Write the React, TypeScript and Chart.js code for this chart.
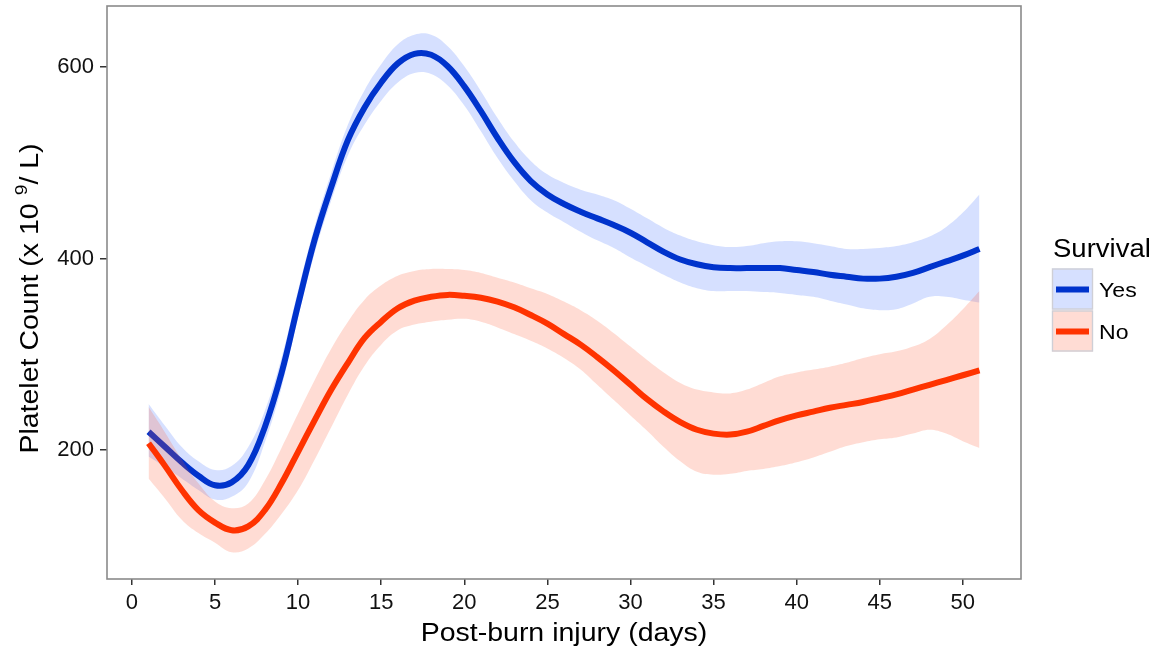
import React, { useEffect, useRef } from 'react';
import { Chart, registerables } from 'chart.js';

Chart.register(...registerables);

// ---- Data ----
const days = [1, 2, 3, 4, 5, 6, 7, 8, 9, 10, 11, 12, 13, 14, 15, 16, 17, 18, 19, 20, 21, 22, 23, 24, 25, 26, 27, 28, 29, 30, 31, 32, 33, 34, 35, 36, 37, 38, 39, 40, 41, 42, 43, 44, 45, 46, 47, 48, 49, 50, 51];

const yesFit = [219, 203, 187, 173, 163, 166, 184, 224, 280, 352, 420, 475, 524, 558, 584, 604, 614, 613, 601, 580, 554, 526, 501, 481, 467, 457, 449, 442, 435, 427, 417, 407, 399, 394, 391, 390, 390, 390, 390, 388, 386, 383, 381, 379, 379, 381, 385, 391, 397, 403, 410];
const yesHi = [248, 225, 203, 188, 179, 183, 203, 241, 296, 367, 434, 490, 540, 576, 603, 624, 634, 634, 622, 601, 575, 547, 522, 502, 488, 479, 472, 467, 461, 452, 442, 432, 424, 418, 414, 412, 413, 416, 418, 418, 416, 413, 410, 410, 411, 413, 417, 423, 433, 448, 467];
const yesLo = [193, 182, 170, 158, 148, 151, 166, 208, 265, 338, 406, 461, 508, 540, 565, 584, 594, 593, 581, 560, 533, 505, 481, 461, 448, 438, 428, 419, 411, 401, 392, 383, 375, 369, 366, 366, 366, 365, 364, 362, 360, 356, 352, 348, 346, 347, 353, 360, 360, 357, 354];

const noFit = [207, 183, 158, 137, 124, 116, 120, 137, 165, 198, 231, 263, 291, 317, 334, 348, 356, 360, 362, 361, 359, 355, 349, 341, 332, 321, 310, 297, 283, 268, 253, 240, 229, 221, 217, 216, 219, 225, 231, 236, 240, 244, 247, 250, 254, 258, 263, 268, 273, 278, 283];
const noHi = [245, 218, 190, 165, 146, 139, 144, 168, 202, 238, 273, 306, 334, 357, 372, 382, 387, 389, 389, 388, 385, 380, 375, 369, 363, 355, 346, 335, 322, 308, 294, 281, 270, 263, 260, 259, 263, 270, 277, 281, 284, 287, 291, 296, 300, 303, 308, 316, 330, 347, 366];
const noLo = [170, 149, 127, 113, 103, 93, 97, 112, 133, 158, 190, 224, 258, 288, 310, 325, 331, 334, 336, 337, 334, 328, 321, 314, 306, 296, 284, 268, 252, 236, 220, 203, 188, 177, 174, 175, 178, 180, 183, 187, 192, 198, 204, 208, 211, 213, 217, 221, 217, 209, 202];

const xTicks = [0, 5, 10, 15, 20, 25, 30, 35, 40, 45, 50];
const yTicks = [200, 400, 600];

const seriesNames = ['Yes', 'No'];
const legendTitle = 'Survival';
const xTitle = 'Post-burn injury (days)';
const yTitleMain = 'Platelet Count (x 10 ';
const yTitleSup = '9';
const yTitleEnd = '/ L)';

const BLUE = '#0033cc';
const RED = '#ff3300';
const BLUE_BAND = 'rgba(51,102,255,0.2)';
const RED_BAND = 'rgba(255,80,40,0.2)';
const FONT = '"Liberation Sans", Arial, Helvetica, sans-serif';
const STRETCH = 1.14;

const pts = (arr: number[]) => days.map((d, i) => ({ x: d, y: arr[i] }));

function stretchText(ctx: CanvasRenderingContext2D, text: string, x: number, y: number, sx: number, align: CanvasTextAlign) {
  ctx.save();
  ctx.translate(x, y);
  ctx.scale(sx, 1);
  ctx.textAlign = align;
  ctx.textBaseline = 'alphabetic';
  ctx.fillText(text, 0, 0);
  ctx.restore();
}

const decorPlugin = {
  id: 'decor',
  afterDatasetsDraw(chart: any) {
    const { ctx, chartArea } = chart;
    ctx.save();
    ctx.strokeStyle = '#8a8a8a';
    ctx.lineWidth = 1.6;
    ctx.strokeRect(chartArea.left, chartArea.top, chartArea.right - chartArea.left, chartArea.bottom - chartArea.top);
    ctx.restore();
  },
  afterDraw(chart: any) {
    const { ctx, chartArea } = chart;
    ctx.save();
    ctx.fillStyle = '#000';
    // x title
    ctx.font = `25px ${FONT}`;
    stretchText(ctx, xTitle, (chartArea.left + chartArea.right) / 2, 641, STRETCH, 'center');

    // y title (rotated, with superscript), stretched along its length
    ctx.save();
    ctx.font = `25px ${FONT}`;
    const w1 = ctx.measureText(yTitleMain).width;
    const wEnd = ctx.measureText(yTitleEnd).width;
    ctx.font = `17px ${FONT}`;
    const wSup = ctx.measureText(yTitleSup).width;
    const total = w1 + wSup + wEnd;
    const cy = (chartArea.top + chartArea.bottom) / 2 + 6;
    ctx.translate(38, cy);
    ctx.rotate(-Math.PI / 2);
    ctx.scale(STRETCH, 1);
    ctx.textBaseline = 'alphabetic';
    ctx.textAlign = 'left';
    const x0 = -total / 2;
    ctx.font = `25px ${FONT}`;
    ctx.fillText(yTitleMain, x0, 0);
    ctx.font = `17px ${FONT}`;
    ctx.fillText(yTitleSup, x0 + w1, -11);
    ctx.font = `25px ${FONT}`;
    ctx.fillText(yTitleEnd, x0 + w1 + wSup, 0);
    ctx.restore();

    // legend
    ctx.font = `25px ${FONT}`;
    stretchText(ctx, legendTitle, 1053, 257, 1.1, 'left');
    const keys = [
      { top: 268.5, color: BLUE, band: BLUE_BAND, name: seriesNames[0], base: 297 },
      { top: 310.5, color: RED, band: RED_BAND, name: seriesNames[1], base: 339 },
    ];
    keys.forEach((k) => {
      ctx.fillStyle = '#ffffff';
      ctx.fillRect(1052, k.top, 41, 41);
      ctx.fillStyle = k.band;
      ctx.fillRect(1052, k.top, 41, 41);
      ctx.strokeStyle = '#cfcfd6';
      ctx.lineWidth = 1.4;
      ctx.strokeRect(1052.5, k.top + 0.5, 40, 40);
      ctx.strokeStyle = k.color;
      ctx.lineWidth = 6;
      ctx.lineCap = 'butt';
      ctx.beginPath();
      ctx.moveTo(1056, k.top + 21);
      ctx.lineTo(1089, k.top + 21);
      ctx.stroke();
      ctx.fillStyle = '#000';
      ctx.font = `21px ${FONT}`;
      stretchText(ctx, k.name, 1099, k.base, 1.1, 'left');
    });
    ctx.restore();
  },
};

export default function App() {
  const ref = useRef<HTMLCanvasElement | null>(null);

  useEffect(() => {
    if (!ref.current) return;
    const common = { pointRadius: 0, pointHoverRadius: 0, tension: 0.4 };
    const chart = new Chart(ref.current, {
      type: 'line',
      data: {
        datasets: [
          { label: 'yesLo', data: pts(yesLo), borderColor: 'rgba(0,0,0,0)', borderWidth: 0, fill: false, order: 6, ...common },
          { label: 'yesHi', data: pts(yesHi), borderColor: 'rgba(0,0,0,0)', borderWidth: 0, fill: '-1', backgroundColor: BLUE_BAND, order: 5, ...common },
          { label: seriesNames[0], data: pts(yesFit), borderColor: BLUE, borderWidth: 6, fill: false, order: 4, ...common },
          { label: 'noLo', data: pts(noLo), borderColor: 'rgba(0,0,0,0)', borderWidth: 0, fill: false, order: 3, ...common },
          { label: 'noHi', data: pts(noHi), borderColor: 'rgba(0,0,0,0)', borderWidth: 0, fill: '-1', backgroundColor: RED_BAND, order: 2, ...common },
          { label: seriesNames[1], data: pts(noFit), borderColor: RED, borderWidth: 6, fill: false, order: 1, ...common },
        ] as any,
      },
      options: {
        animation: false,
        responsive: false,
        maintainAspectRatio: false,
        layout: { padding: { top: 6, right: 141, left: 0, bottom: 0 } },
        plugins: { legend: { display: false }, tooltip: { enabled: false } },
        scales: {
          x: {
            type: 'linear',
            min: -1.5,
            max: 53.5,
            afterBuildTicks: (s: any) => { s.ticks = xTicks.map((v) => ({ value: v })); },
            afterFit: (s: any) => { s.height = 76; s.paddingLeft = 0; s.paddingRight = 0; },
            ticks: { font: { family: FONT, size: 22 }, color: '#111', padding: 5, maxRotation: 0, autoSkip: false },
            grid: { display: true, drawOnChartArea: false, drawTicks: true, tickLength: 6, color: '#333', lineWidth: 1.5 },
            border: { display: false },
          },
          y: {
            type: 'linear',
            min: 65,
            max: 664,
            afterBuildTicks: (s: any) => { s.ticks = yTicks.map((v) => ({ value: v })); },
            afterFit: (s: any) => { s.width = 107; s.paddingTop = 0; s.paddingBottom = 0; },
            ticks: { font: { family: FONT, size: 22 }, color: '#111', padding: 6 },
            grid: { display: true, drawOnChartArea: false, drawTicks: true, tickLength: 7, color: '#333', lineWidth: 1.5 },
            border: { display: false },
          },
        },
      } as any,
      plugins: [decorPlugin],
    });
    return () => chart.destroy();
  }, []);

  return (
    <div style={{ position: 'absolute', left: 0, top: 0, width: 1162, height: 655, background: '#fff' }}>
      <canvas ref={ref} width={1162} height={655} style={{ display: 'block' }} />
    </div>
  );
}
